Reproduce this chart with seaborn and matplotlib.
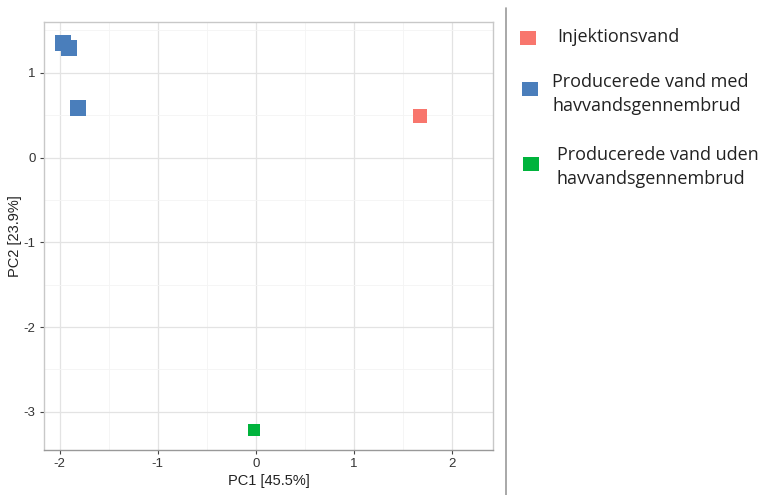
import pandas as pd
import matplotlib
matplotlib.use("Agg")
import matplotlib.pyplot as plt
from matplotlib.lines import Line2D
from matplotlib.patches import Rectangle
from matplotlib.ticker import MultipleLocator
import seaborn as sns

# PCA scores
groups = ["Injektionsvand",
          "Producerede vand med\nhavvandsgennembrud",
          "Producerede vand uden\nhavvandsgennembrud"]
pc1 = [1.68, -1.97, -1.91, -1.81, -0.02]
pc2 = [0.49, 1.35, 1.29, 0.59, -3.21]
group = [groups[0], groups[1], groups[1], groups[1], groups[2]]
colors = ["#F8766D", "#4A7EBB", "#00B33C"]
sizes = [115, 140, 85]

df = pd.DataFrame({"PC1": pc1, "PC2": pc2, "group": group})

sns.set_theme(style="whitegrid")
plt.rcParams["font.family"] = ["Liberation Sans", "DejaVu Sans"]
plt.rcParams["axes.unicode_minus"] = False

W, H = 766, 495
fig = plt.figure(figsize=(W / 100, H / 100), dpi=100)
ax = fig.add_axes([44 / W, 1 - 450 / H, 449 / W, 428 / H])

for g, c, s in zip(groups, colors, sizes):
    sns.scatterplot(data=df[df["group"] == g], x="PC1", y="PC2", color=c,
                    marker="s", s=s, linewidth=0, ax=ax, zorder=3)

ax.set_xlim(-2.16, 2.42)
ax.set_ylim(-3.45, 1.6)
ax.xaxis.set_major_locator(MultipleLocator(1))
ax.yaxis.set_major_locator(MultipleLocator(1))
ax.xaxis.set_minor_locator(MultipleLocator(0.5))
ax.yaxis.set_minor_locator(MultipleLocator(0.5))
ax.grid(which="major", color="#e3e3e3", linewidth=0.9)
ax.grid(which="minor", color="#f4f4f4", linewidth=0.6)
for sp in ax.spines.values():
    sp.set_color("#c8c8c8")
    sp.set_linewidth(1.0)
ax.spines["bottom"].set_color("#999999")
ax.tick_params(axis="both", which="major", length=3, width=0.8, color="#444444",
               labelsize=9.5, labelcolor="#333333", pad=3, bottom=True, left=True)
ax.tick_params(which="minor", length=0)
ax.set_xlabel("PC1 [45.5%]", fontsize=10.5, color="#222222")
ax.set_ylabel("PC2 [23.9%]", fontsize=10.5, color="#222222")
ax.xaxis.set_label_coords(0.5, -(474 - 450) / 428)
ax.yaxis.set_label_coords((22 - 44) / 449, 0.5)

# divider line between plot and legend
fig.add_artist(Line2D([506 / W, 506 / W], [0.0, 1 - 8 / H], transform=fig.transFigure,
                      color="#999999", linewidth=1.2))

# legend on the right, drawn by hand to follow the reference layout
leg_sq = [(528, 38), (530, 89), (531, 164)]
leg_txt = [(557, 37), (552, 94), (557, 167)]
for (sx, sy), (tx, ty), c, lab in zip(leg_sq, leg_txt, colors, groups):
    fig.add_artist(Rectangle(((sx - 8) / W, 1 - (sy + 7) / H), 16 / W, 14 / H,
                             transform=fig.transFigure, facecolor=c, edgecolor="none"))
    fig.text(tx / W, 1 - ty / H, lab, ha="left", va="center", fontsize=13,
             linespacing=1.45, color="#222222",
             family=["Open Sans", "DejaVu Sans"])

fig.savefig("out.png", dpi=100)
